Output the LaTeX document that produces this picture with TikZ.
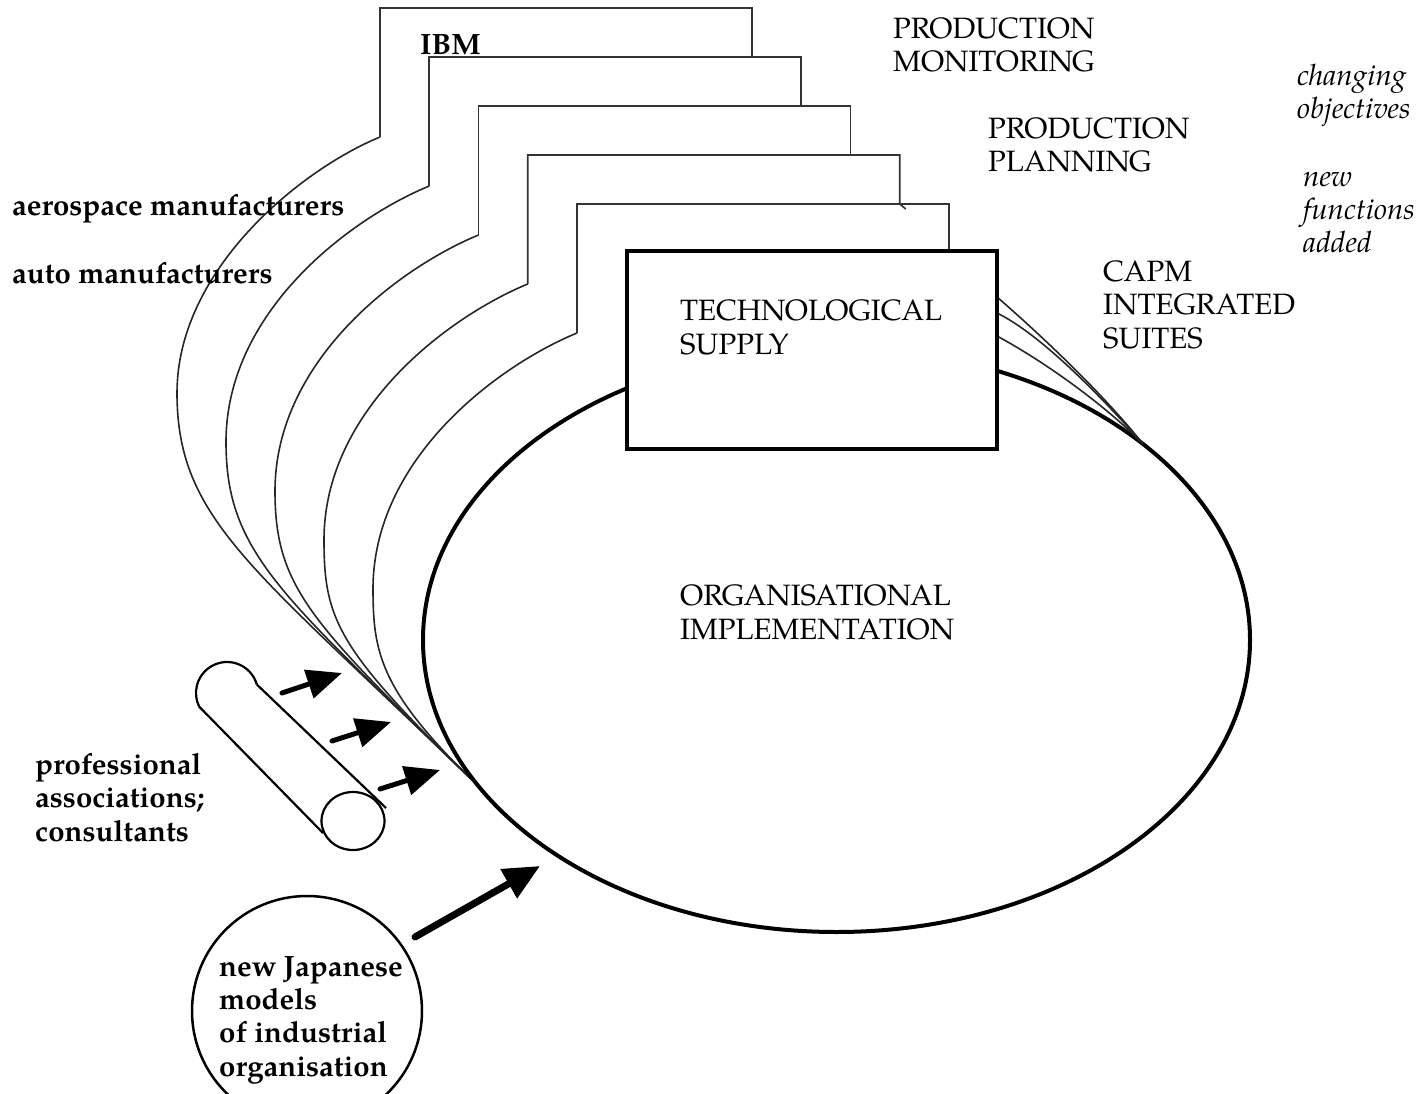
\documentclass[tikz,border=0pt]{standalone}
\usepackage{fontspec}
\setmainfont{TeX Gyre Pagella}
\usetikzlibrary{arrows.meta}
\begin{document}
\begin{tikzpicture}[x=1pt,y=-1pt,
  lbl/.style={font=\fontsize{29.4}{33.3}\selectfont, align=left, inner sep=0pt, anchor=base west},
  layerline/.style={line width=1.6pt, black!80},
  curveline/.style={line width=1.6pt, black!85},
  heavy/.style={line width=4pt, black},
  smallarrow/.style={line width=5pt, line cap=round, -{Triangle[length=35pt,width=29pt]}},
  bigarrow/.style={line width=7pt, line cap=round, -{Triangle[length=36pt,width=32pt]}}]
\useasboundingbox (0,0) rectangle (1427,1094);
\clip (0,0) rectangle (1427,1094);

\coordinate (M) at (472,780);
\coordinate (N) at (1143,444);

% left curves of the five layers
\draw[curveline] (380,137) .. controls (300,170) and (177,270) .. (177,393)
  .. controls (177,520.7) and (254.7,568.7) .. (M);
\draw[curveline] (429.25,186) .. controls (349.25,219) and (226,312) .. (226,442)
  .. controls (226,553.5) and (282.2,595.5) .. (M);
\draw[curveline] (478.5,235) .. controls (398.5,268) and (275,361) .. (275,491)
  .. controls (275,586.4) and (309.7,622.2) .. (M);
\draw[curveline] (527.75,284) .. controls (447.75,317) and (324,410) .. (324,540)
  .. controls (324,619.2) and (337.2,649) .. (M);
\draw[curveline] (577,333) .. controls (497,366) and (373,459) .. (373,589)
  .. controls (373,652) and (380,690) .. (M);

% layered rectangles
\draw[layerline] (380,137) -- (380,8) -- (752,8) -- (752,57);
\draw[layerline] (429.25,186) -- (429.25,57) -- (801,57) -- (801,106);
\draw[layerline] (478.5,235) -- (478.5,106) -- (850.5,106) -- (850.5,155);
\draw[layerline] (527.75,284) -- (527.75,155) -- (899.75,155) -- (899.75,204) -- ++(6,5);
\draw[layerline] (577,333) -- (577,204) -- (949,204) -- (949,251) -- ++(6,5);

% main ellipse
\draw[heavy] (836.5,640) ellipse [x radius=413.5, y radius=292];

% right curves
\coordinate (ra) at (997,297);
\coordinate (rb) at (997,313);
\coordinate (rc) at (997,336);
\draw[curveline] (ra) .. controls (1035,330) and (1100,390) .. (N);
\draw[curveline] (rb) .. controls (1040,334) and (1100,395) .. (N);
\draw[curveline] (rc) .. controls (1045,362) and (1105,405) .. (N);

% technological supply box
\draw[heavy, fill=white] (627,251) rectangle (997,449);

% texts (anchor = baseline of the last line)
\node[lbl] (ibm) at (420,55) {\bfseries IBM};
\node[lbl] (pm) at (893,72) {PRODUCTION\\MONITORING};
\node[lbl] (pp) at (988,172) {PRODUCTION\\PLANNING};
\node[lbl] (capm) at (1103,348) {CAPM\\INTEGRATED\\SUITES};
\node[lbl] (ts) at (680,354) {TECHNOLOGICAL\\SUPPLY};
\node[lbl] (oi) at (680,639) {ORGANISATIONAL\\IMPLEMENTATION};
\node[lbl] (aero) at (12,216) {\bfseries aerospace manufacturers};
\node[lbl] (auto) at (12,283) {\bfseries auto manufacturers};
\node[lbl] (chg) at (1297,119) {\itshape changing\\\itshape objectives};
\node[lbl] (newf) at (1303,253) {\itshape new\\\itshape functions\\\itshape added};
\node[lbl] (prof) at (35,841) {\bfseries professional\\\bfseries associations;\\\bfseries consultants};

% cylinder
\draw[line width=2.2pt] (227,693) ++(-16:31) coordinate (cyltop)
   arc[start angle=-16, end angle=-206, radius=31] coordinate (cylbot);
\coordinate (cyltopend) at (386,808);
\coordinate (cylbotend) at (323,833);
\draw[line width=2.2pt] (cyltop) -- (cyltopend);
\draw[line width=2.2pt] (cylbot) -- (cylbotend);
\draw[line width=2.2pt, fill=white] (353,821) ellipse [x radius=31.5, y radius=29];

% small arrows
\coordinate (a1s) at (282,693); \coordinate (a1e) at (342,673);
\coordinate (a2s) at (332,741); \coordinate (a2e) at (391,722);
\coordinate (a3s) at (380,789); \coordinate (a3e) at (440,770);
\draw[smallarrow] (a1s) -- (a1e);
\draw[smallarrow] (a2s) -- (a2e);
\draw[smallarrow] (a3s) -- (a3e);

% Japanese models circle and arrow
\draw[line width=2.5pt] (307,1011) circle [radius=115];
\node[lbl] (jap) at (219,1076) {\bfseries new Japanese\\\bfseries models\\\bfseries of industrial\\\bfseries organisation};
\coordinate (js) at (415,937);
\coordinate (je) at (540,866);
\draw[bigarrow] (js) -- (je);
\end{tikzpicture}
\end{document}
